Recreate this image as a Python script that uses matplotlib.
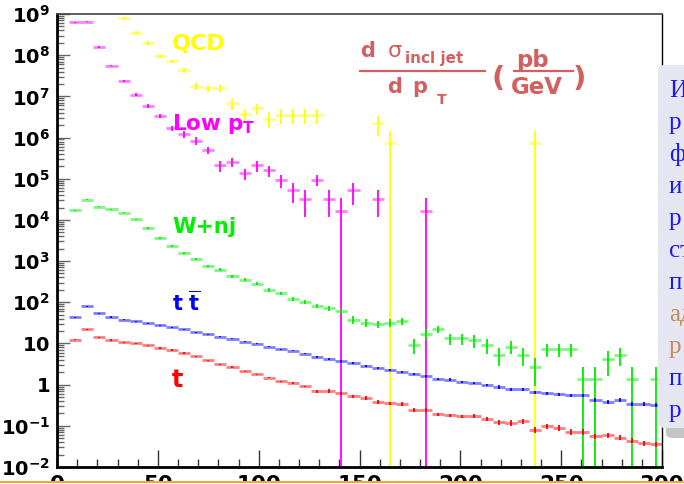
import numpy as np
import matplotlib.pyplot as plt
from matplotlib.patches import Rectangle, FancyBboxPatch
from matplotlib.lines import Line2D
from matplotlib.ticker import FixedLocator, MultipleLocator, NullFormatter

plt.rcParams['font.family'] = 'DejaVu Sans'
plt.rcParams['mathtext.fontset'] = 'dejavusans'

W, H = 684, 484

# ---- data: bin centres (6 GeV bins), contents, relative errors ----
qcd_pt = [33, 39, 45, 51, 57, 63, 69, 75, 81, 87, 93, 99, 105, 111, 117, 123, 129, 159, 165, 237]
qcd_val = [7.9e8, 3.5e8, 2.0e8, 9.5e7, 7.1e7, 4.3e7, 1.8e7, 1.6e7, 1.6e7, 6.8e6, 3.7e6, 5.1e6,
           2.9e6, 3.6e6, 3.6e6, 3.6e6, 3.6e6, 2.2e6, 7.2e5, 7.2e5]
qcd_rel = [0.08, 0.08, 0.1, 0.1, 0.1, 0.12, 0.2, 0.2, 0.2, 0.3, 0.3, 0.3,
           0.4, 0.4, 0.4, 0.4, 0.4, 0.5, 1.0, 1.0]

low_pt = [9, 15, 21, 27, 33, 39, 45, 51, 57, 63, 69, 75, 81, 87, 93, 99, 105, 111, 117, 123,
          129, 135, 141, 147, 159, 183]
low_val = [6.3e8, 6.5e8, 1.6e8, 5.6e7, 2.4e7, 1.1e7, 5.8e6, 3.3e6, 1.7e6, 1.2e6, 8.4e5, 5.0e5,
           2.1e5, 2.5e5, 1.35e5, 2.1e5, 1.6e5, 9.3e4, 5.2e4, 3.3e4, 9.3e4, 3.3e4, 1.66e4, 5.2e4,
           3.3e4, 1.66e4]
low_rel = [0.03, 0.03, 0.04, 0.05, 0.06, 0.08, 0.1, 0.12, 0.15, 0.2, 0.2, 0.2, 0.3, 0.25, 0.3,
           0.3, 0.3, 0.35, 0.5, 0.65, 0.3, 0.65, 1.0, 0.55, 0.65, 1.0]

wnj_pt = [9, 15, 21, 27, 33, 39, 45, 51, 57, 63, 69, 75, 81, 87, 93, 99, 105, 111, 117, 123,
          129, 135, 141, 147, 153, 159, 165, 171, 177, 183, 189, 195, 201, 207, 213, 219, 225,
          231, 237, 243, 249, 255, 261, 267, 273, 279, 285, 297]
wnj_val = [1.7e4, 3.1e4, 2.1e4, 1.8e4, 1.5e4, 1.03e4, 6.3e3, 3.6e3, 2.3e3, 1.55e3, 1.1e3, 770,
           620, 430, 350, 280, 200, 166, 120, 102, 83, 71, 63, 38, 32, 29, 32, 35, 9.1, 17, 22,
           13.3, 13.3, 12, 9.1, 5.3, 8.3, 5.3, 2.7, 7.2, 7.2, 7.2, 1.35, 1.35, 4.1, 5.3, 1.35, 1.35]
wnj_rel = [0.03, 0.03, 0.03, 0.03, 0.03, 0.04, 0.04, 0.05, 0.05, 0.06, 0.06, 0.07, 0.07, 0.08,
           0.08, 0.08, 0.1, 0.1, 0.1, 0.12, 0.12, 0.12, 0.12, 0.2, 0.2, 0.2, 0.2, 0.2, 0.4, 0.3,
           0.2, 0.3, 0.3, 0.35, 0.4, 0.45, 0.35, 0.45, 0.65, 0.35, 0.35, 0.35, 1.0, 1.0, 0.6,
           0.45, 1.0, 1.0]

full_pt = list(range(9, 300, 6))
tt_val = [43, 79, 54, 44, 38, 35, 31, 28, 25, 22, 18.5, 16.6, 14.6, 12.9, 11, 9.8, 8.3, 7.3,
          6.6, 5.7, 4.7, 4.2, 3.7, 3.3, 2.9, 2.6, 2.3, 2.0, 1.8, 1.66, 1.35, 1.33, 1.15, 1.12,
          1.0, 0.89, 0.77, 0.77, 0.65, 0.61, 0.58, 0.55, 0.55, 0.43, 0.38, 0.43, 0.34, 0.34, 0.32]
t_val = [12.3, 22, 14.1, 12.1, 10.6, 10, 9.0, 7.8, 6.9, 5.8, 4.9, 3.9, 3.1, 2.7, 2.1, 1.78,
         1.48, 1.2, 1.1, 0.91, 0.69, 0.71, 0.61, 0.52, 0.47, 0.38, 0.35, 0.34, 0.24, 0.24, 0.19,
         0.18, 0.17, 0.176, 0.146, 0.123, 0.119, 0.129, 0.080, 0.097, 0.090, 0.071, 0.071,
         0.056, 0.059, 0.052, 0.044, 0.038, 0.036]
tt_rel = [0.03] * 20 + [0.06] * 15 + [0.1] * 14
t_rel = [0.04] * 20 + [0.1] * 15 + [0.15] * 14

yticks = [10.0 ** k for k in range(-2, 10)]
ylabels = [r'$\mathbf{10^{-2}}$', r'$\mathbf{10^{-1}}$', r'$\mathbf{1}$', r'$\mathbf{10}$'] + \
          [r'$\mathbf{10^{%d}}$' % k for k in range(2, 10)]

panel_lines = ['И', 'р', 'ф', 'и', 'р', 'ст', 'п', 'ад', 'р', 'п', 'р']
panel_colors = ['#1a1ae8'] * 7 + ['#c48a58'] * 2 + ['#1a1ae8'] * 2

title_col = '#d35f5f'


def px(x, y):
    return x / W, 1 - y / H


fig = plt.figure(figsize=(W / 100, H / 100), dpi=100)
ax = fig.add_axes([57 / W, 1 - 467 / H, 605 / W, 453 / H])


def draw(pts, vals, rel, color):
    pts = np.asarray(pts, float)
    vals = np.asarray(vals, float)
    err = vals * np.asarray(rel)
    ax.hlines(vals, pts - 3, pts + 3, colors=color, lw=2.0, alpha=0.5)
    ax.vlines(pts, np.clip(vals - err, 1e-4, None), vals + err, colors=color, lw=1.3)


draw(qcd_pt, qcd_val, qcd_rel, '#ffff00')
draw(low_pt, low_val, low_rel, '#ff00ff')
draw(wnj_pt, wnj_val, wnj_rel, '#00ee00')
draw(full_pt, tt_val, tt_rel, '#0000ff')
draw(full_pt, t_val, t_rel, '#ff0000')

ax.set_xlim(0, 300)
ax.set_yscale('log')
ax.set_ylim(1e-2, 1e9)
ax.yaxis.set_major_locator(FixedLocator(yticks))
ax.set_yticklabels(ylabels)
ax.yaxis.set_minor_locator(FixedLocator([k * 10.0 ** e for e in range(-2, 9) for k in range(2, 10)]))
ax.yaxis.set_minor_formatter(NullFormatter())
ax.set_xticks(range(0, 301, 50))
ax.set_xticklabels([str(v) for v in range(0, 301, 50)], fontweight='bold')
ax.xaxis.set_minor_locator(MultipleLocator(10))

ax.tick_params(axis='y', which='major', direction='in', length=9, width=1, color='#666',
               labelsize=14, pad=5)
ax.tick_params(axis='y', which='minor', direction='in', length=5, width=1, color='#666')
ax.tick_params(axis='x', which='major', direction='in', length=12, width=1, color='#333',
               labelsize=15.5, pad=5.5)
ax.tick_params(axis='x', which='minor', direction='in', length=6, width=1, color='#333')

ax.spines['left'].set_linewidth(2)
ax.spines['bottom'].set_linewidth(2)
ax.spines['top'].set_color('#444')
ax.spines['top'].set_linewidth(1.2)
ax.spines['right'].set_linewidth(1)


def label(x, y, s, **kw):
    fig.text(*px(x, y), s, va='baseline', ha='left', **kw)


# series labels
label(172, 50, 'QCD', size=16, weight='bold', color='#ffff00')
label(172, 130, r'$\mathbf{Low\ p_{T}}$', size=15.5, color='#ff00ff')
label(172, 233, 'W+nj', size=15.5, weight='bold', color='#00ee00')
label(172, 311, r'$\mathbf{t\ \overline{t}}$', size=15, color='#0000ff')
label(172, 387, 't', size=17, weight='bold', color='#ff0000')

# d sigma / d pT (pb/GeV)
label(360, 57, 'd', size=15, weight='bold', color=title_col)
label(388, 57, 'σ', size=16, color=title_col)
label(405, 63, 'incl jet', size=11, weight='bold', color=title_col)
label(387, 93, 'd', size=15, weight='bold', color=title_col)
label(412, 93, 'p', size=15, weight='bold', color=title_col)
label(437, 104, 'T', size=10, weight='bold', color=title_col)
label(491, 87, '(', size=21, weight='bold', color=title_col)
label(516, 67, 'pb', size=16.5, weight='bold', color=title_col)
label(511, 94, 'GeV', size=16.5, weight='bold', color=title_col)
label(573, 87, ')', size=21, weight='bold', color=title_col)
for x0, x1 in [(360, 485), (514, 573)]:
    fig.add_artist(Line2D([x0 / W, x1 / W], [1 - 71 / H] * 2, transform=fig.transFigure,
                          color=title_col, lw=1.6))

# side panel of the slide
fig.add_artist(FancyBboxPatch(px(666, 438), 40 / W, (438 - 80) / H,
                              boxstyle='round,pad=0,rounding_size=0.01',
                              transform=fig.transFigure, facecolor='#8c8c8c', edgecolor='none',
                              alpha=0.5, zorder=5))
fig.add_artist(FancyBboxPatch(px(658, 428), 40 / W, (428 - 65) / H,
                              boxstyle='round,pad=0,rounding_size=0.01',
                              transform=fig.transFigure, facecolor='#e6e6f2', edgecolor='none',
                              zorder=6))
for i, (s, c) in enumerate(zip(panel_lines, panel_colors)):
    fig.text(*px(669, 97 + 32 * i), s, va='baseline', ha='left', size=18,
             family='Liberation Serif', color=c, zorder=7)

# bottom slide border
fig.add_artist(Rectangle(px(0, 484), 1, 3 / H, transform=fig.transFigure,
                         facecolor='white', edgecolor='none', zorder=8))
fig.add_artist(Line2D([0, 1], [1 - 481.5 / H] * 2, transform=fig.transFigure,
                      color='#f2a640', lw=1.5, zorder=9))

fig.savefig('out.png', dpi=100)
